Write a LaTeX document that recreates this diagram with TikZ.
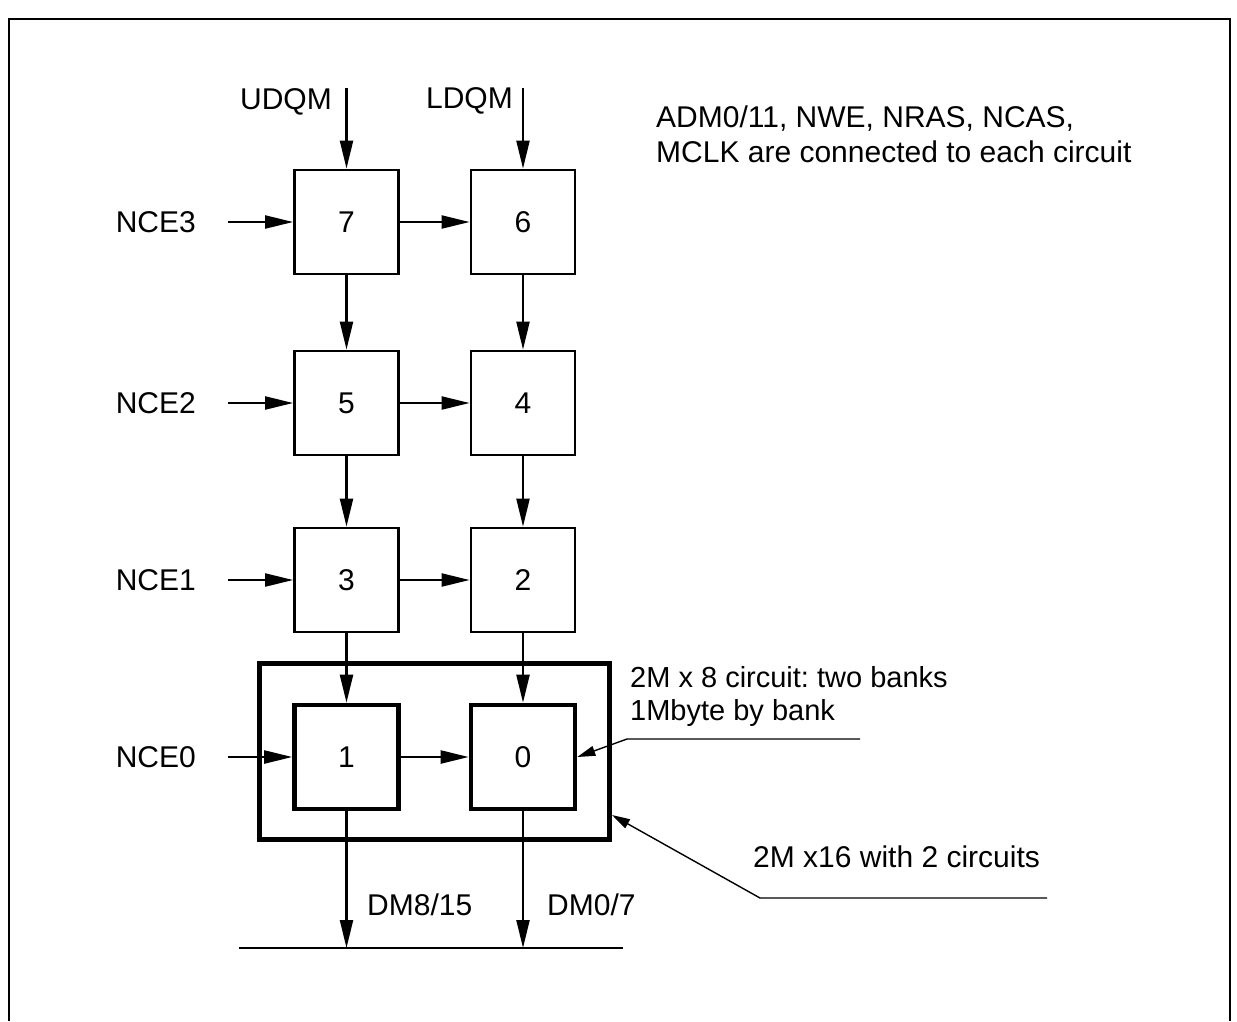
\documentclass[tikz,border=0pt]{standalone}
\usepackage{fontspec}
\setmainfont{Liberation Sans}
\usetikzlibrary{arrows.meta}
\frenchspacing

\begin{document}
\begin{tikzpicture}[x=1pt,y=-1pt,>={Triangle[length=28pt,width=13pt]}]
        \tikzstyle{every node}=[font=\fontsize{30}{35}\selectfont, inner sep=0pt]
        \tikzstyle{bank}=[draw, line width=2.8pt, minimum size=104pt]
        \tikzstyle{circuit}=[bank, line width=4.6pt]
        \tikzstyle{wire}=[->, line width=2.2pt]
        \tikzstyle{note}=[-{Triangle[length=18pt,width=10pt]}, line width=1.4pt]
        \useasboundingbox (0,0) rectangle (1237,1021);
        % frame, cut at the bottom of the page
        \draw[line width=2.5pt] (9,1021) |- (1230,19) -- (1230,1021);
        % memory banks
        \node[bank] (b7) at (346.5,222) {7};
        \node[bank] (b6) at (523,222) {6};
        \node[bank] (b5) at (346.5,403) {5};
        \node[bank] (b4) at (523,403) {4};
        \node[bank] (b3) at (346.5,580) {3};
        \node[bank] (b2) at (523,580) {2};
        \node[circuit] (b1) at (346.5,757) {1};
        \node[circuit] (b0) at (523,757) {0};
        \node[draw, line width=5pt, minimum width=350pt, minimum height=176pt] (pair) at (434.5,751.5) {};
        % signal names
        \node[anchor=east] (nce3) at (196,222) {NCE3};
        \node[anchor=east] (nce2) at (196,403) {NCE2};
        \node[anchor=east] (nce1) at (196,580) {NCE1};
        \node[anchor=east] (nce0) at (196,757) {NCE0};
        \node[anchor=east] (udqm) at (332,102) {UDQM};
        \node[anchor=east] (ldqm) at (513,101) {LDQM};
        \node[anchor=west] (dmh) at (367,905) {DM8/15};
        \node[anchor=west] (dml) at (547,905) {DM0/7};
        \node[anchor=west, align=left] (common) at (656,134) {ADM0/11, NWE, NRAS, NCAS,\\MCLK are connected to each circuit};
        \node[anchor=west, align=left, font=\fontsize{29}{33}\selectfont] (banks) at (630,696) {2M x 8 circuit: two banks\\1Mbyte by bank};
        \node[anchor=west] (width) at (753,857) {2M x16 with 2 circuits};
        \coordinate (uin) at (346.5,88);
        \coordinate (lin) at (523,88);
        \coordinate (busl) at (239,948);
        \coordinate (busr) at (623,948);
        \coordinate (n8a) at (627,739);
        \coordinate (n8b) at (860,739);
        \coordinate (n16a) at (760,898);
        \coordinate (n16b) at (1047,898);
        \coordinate (pairtip) at (612,815);
        % connections
        \draw[wire] (uin) -- (b7);
        \draw[wire] (lin) -- (b6);
        \draw[wire] ([xshift=32pt]nce3.east) -- (b7);
        \draw[wire] ([xshift=32pt]nce2.east) -- (b5);
        \draw[wire] ([xshift=32pt]nce1.east) -- (b3);
        \draw[wire] ([xshift=32pt]nce0.east) -- (b1);
        \draw[wire] (b7) -- (b6);
        \draw[wire] (b5) -- (b4);
        \draw[wire] (b3) -- (b2);
        \draw[wire] (b1) -- (b0);
        \draw[wire] (b7) -- (b5);
        \draw[wire] (b5) -- (b3);
        \draw[wire] (b3) -- (b1);
        \draw[wire] (b6) -- (b4);
        \draw[wire] (b4) -- (b2);
        \draw[wire] (b2) -- (b0);
        \draw[wire] (b1) -- (b1 |- busl);
        \draw[wire] (b0) -- (b0 |- busl);
        \draw[line width=2.2pt] (busl) -- (busr);
        % notes
        \draw[note] (n8b) -- (n8a) -- (b0.east);
        \draw[note] (n16b) -- (n16a) -- (pairtip);
    \end{tikzpicture}
\end{document}
